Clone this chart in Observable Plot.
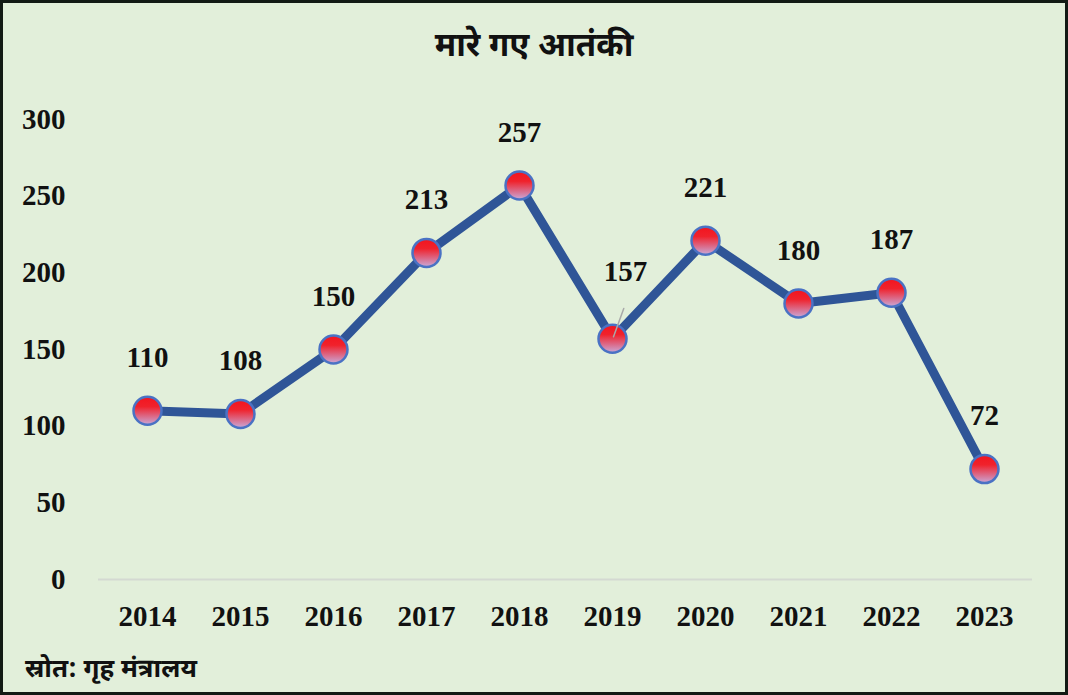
<!DOCTYPE html>
<html>
<head>
<meta charset="utf-8">
<script src="https://cdn.jsdelivr.net/npm/d3@7"></script>
<script src="https://cdn.jsdelivr.net/npm/@observablehq/plot@0.6"></script>
<style>
  html, body { margin: 0; padding: 0; background: #ffffff; }
  #frame {
    width: 1068px; height: 695px; box-sizing: border-box;
    border: 3px solid #121a14; background: #e2efda; overflow: hidden;
    font-family: "Liberation Serif", "Times New Roman", serif;
  }
  #title {
    height: 88px; line-height: 90px; text-align: center;
    font-size: 33px; font-weight: bold; color: #111;
    font-family: "Noto Sans Devanagari", "Lohit Devanagari", "FreeSerif", "Liberation Serif", serif;
  }
  #caption {
    height: 41px; line-height: 41px; padding-left: 22px;
    font-size: 26px; font-weight: bold; color: #111;
    font-family: "Noto Sans Devanagari", "Lohit Devanagari", "FreeSerif", "Liberation Serif", serif;
  }
  #chart svg { display: block; }
</style>
</head>
<body>
<div id="frame">
  <div id="title">मारे गए आतंकी</div>
  <div id="chart"></div>
  <div id="caption">स्रोत: गृह मंत्रालय</div>
</div>
<script>
const years = ["2014","2015","2016","2017","2018","2019","2020","2021","2022","2023"];
const killed = [110, 108, 150, 213, 257, 157, 221, 180, 187, 72];
const yTicks = [0, 50, 100, 150, 200, 250, 300];

const data = years.map((y, i) => ({year: y, value: killed[i]}));
const normalLabels = data.filter(d => d.year !== "2019");
const shiftedLabels = data.filter(d => d.year === "2019");

const leader = {
  draw(context, l) {
    context.moveTo(0, 0);
    context.lineTo(0, -l);
  }
};

const chart = Plot.plot({
  width: 1062,
  height: 560,
  marginTop: 28,
  marginBottom: 72,
  marginLeft: 95,
  marginRight: 33,
  style: {
    background: "transparent",
    fontFamily: "'Liberation Serif', 'Times New Roman', serif",
    fontSize: "29px",
    fontWeight: "bold",
    color: "#111"
  },
  x: {type: "point", domain: years, padding: 0.5, label: null, tickSize: 0, tickPadding: 26},
  y: {domain: [0, 300], ticks: yTicks, label: null, tickSize: 0, tickPadding: 33},
  marks: [
    Plot.ruleY([0], {stroke: "#d4d9d2", strokeWidth: 2}),
    Plot.line(data, {x: "year", y: "value", stroke: "#2f5597", strokeWidth: 9, strokeLinejoin: "round"}),
    Plot.dot(data, {x: "year", y: "value", r: 14, fill: "url(#markerGrad)", stroke: "#4a72c4", strokeWidth: 2.5}),
    Plot.vector(shiftedLabels, {x: "year", y: "value", length: 30, rotate: 20, anchor: "start", shape: leader, stroke: "#a9a9a9", strokeWidth: 1.5, dx: 1, dy: -2}),
    Plot.text(normalLabels, {x: "year", y: "value", text: d => String(d.value), dy: -53, fontSize: 29, fontWeight: "bold", fill: "#111"}),
    Plot.text(shiftedLabels, {x: "year", y: "value", text: d => String(d.value), dx: 13, dy: -67, fontSize: 29, fontWeight: "bold", fill: "#111"})
  ]
});

const svg = d3.select(chart);
const defs = svg.insert("defs", ":first-child");
const grad = defs.append("linearGradient")
  .attr("id", "markerGrad").attr("x1", "0").attr("y1", "0").attr("x2", "0").attr("y2", "1");
grad.append("stop").attr("offset", "0%").attr("stop-color", "#f3141e");
grad.append("stop").attr("offset", "35%").attr("stop-color", "#f0222c");
grad.append("stop").attr("offset", "100%").attr("stop-color", "#c9a9d9");

document.getElementById("chart").appendChild(chart);
</script>
</body>
</html>
